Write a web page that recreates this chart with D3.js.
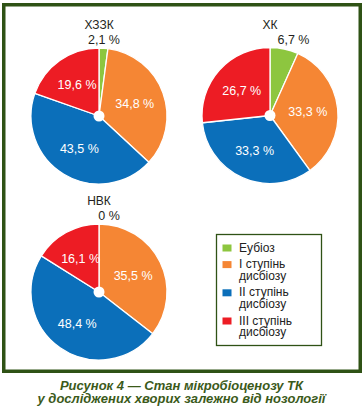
<!DOCTYPE html>
<html>
<head>
<meta charset="utf-8">
<script src="https://cdn.jsdelivr.net/npm/d3@7"></script>
<style>
  html, body { margin: 0; padding: 0; background: #fff; }
  svg { display: block; font-family: "Liberation Sans", Arial, Helvetica, sans-serif; }
</style>
</head>
<body>
<svg id="chart" width="363" height="414"></svg>
<script>
(function () {

    /* data */
    var groups = ["ХЗЗК", "ХК", "НВК"];
    var categories = ["Еубіоз", "І ступінь дисбіозу", "ІІ ступінь дисбіозу", "ІІІ ступінь дисбіозу"];
    var legendLines = [["Еубіоз"], ["І ступінь", "дисбіозу"], ["ІІ ступінь", "дисбіозу"], ["ІІІ ступінь", "дисбіозу"]];
    var valsHZZK = [2.1, 34.8, 43.5, 19.6];
    var valsHK   = [6.7, 33.3, 33.3, 26.7];
    var valsNVK  = [0, 35.5, 48.4, 16.1];
    var captionLines = ["Рисунок 4 — Стан мікробіоценозу ТК", "у досліджених хворих залежно від нозології"];

    var allVals = [valsHZZK, valsHK, valsNVK];

    /* styles / layout */
    var COLORS = ["#8dc63f", "#f58634", "#0b6fba", "#ed1c24"];
    var FRAME = "#2f5215";
    var R = 68;
    var LABEL_R = 38;
    /* pie centres and the dx of the small top label */
    var PIES = [
        { cx: 99,  cy: 116,   topDx: 5    },
        { cx: 270, cy: 115.5, topDx: 23.5 },
        { cx: 99,  cy: 292,   topDx: 10   }
    ];

    var color = d3.scaleOrdinal().domain(categories).range(COLORS);

    function fmt(v) {
        return v === 0 ? "0 %" : v.toFixed(1).replace(".", ",") + " %";
    }

    var svg = d3.select("#chart");

    /* outer frame */
    svg.append("rect")
        .attr("x", 3.75).attr("y", 4.75)
        .attr("width", 356.5).attr("height", 366.5)
        .attr("fill", "none")
        .attr("stroke", FRAME)
        .attr("stroke-width", 3.5);

    var pie = d3.pie().sort(null).value(function (d) { return d; });
    var arc = d3.arc().innerRadius(0).outerRadius(R);
    var labelArc = d3.arc().innerRadius(LABEL_R).outerRadius(LABEL_R);

    groups.forEach(function (name, gi) {
        var p = PIES[gi];
        var vals = allVals[gi];
        var g = svg.append("g")
            .attr("transform", "translate(" + p.cx + "," + p.cy + ")");

        var arcs = pie(vals);

        g.selectAll("path.slice")
            .data(arcs)
            .enter()
            .append("path")
            .attr("class", "slice")
            .attr("d", arc)
            .attr("fill", function (d, i) { return color(categories[i]); })
            .attr("stroke", "#fff")
            .attr("stroke-width", 1.3)
            .attr("stroke-linejoin", "round");

        /* centre hole */
        g.append("circle")
            .attr("r", 5.5)
            .attr("fill", "#fff");

        /* labels inside slices (not the first, tiny one) */
        g.selectAll("text.inlabel")
            .data(arcs.slice(1))
            .enter()
            .append("text")
            .attr("class", "inlabel")
            .attr("transform", function (d) {
                var c = labelArc.centroid(d);
                return "translate(" + c[0] + "," + (c[1] + 4.5) + ")";
            })
            .attr("text-anchor", "middle")
            .attr("fill", "#fff")
            .attr("font-size", "12.5px")
            .text(function (d) { return fmt(d.data); });

        /* first slice label above the pie */
        g.append("text")
            .attr("x", p.topDx)
            .attr("y", -R - 4)
            .attr("text-anchor", "middle")
            .attr("fill", "#231f20")
            .attr("font-size", "12.5px")
            .text(fmt(vals[0]));

        /* pie title */
        g.append("text")
            .attr("x", 0)
            .attr("y", -R - 19)
            .attr("text-anchor", "middle")
            .attr("fill", "#231f20")
            .attr("font-size", "12px")
            .text(name);
    });

    /* legend */
    var LEG_X = 216, LEG_Y = 234, LEG_W = 105, LEG_H = 111;
    var LINE_H = 11.6, ITEM_GAP = 5;
    var legend = svg.append("g");
    legend.append("rect")
        .attr("x", LEG_X + 0.5).attr("y", LEG_Y + 0.5)
        .attr("width", LEG_W).attr("height", LEG_H)
        .attr("fill", "#fff")
        .attr("stroke", FRAME)
        .attr("stroke-width", 1.3);

    var ly = 251.5;
    categories.forEach(function (c, i) {
        var item = legend.append("g");
        item.append("rect")
            .attr("x", 222.5).attr("y", ly - 7)
            .attr("width", 9).attr("height", 7)
            .attr("fill", color(c));
        var t = item.append("text")
            .attr("x", 239)
            .attr("y", ly)
            .attr("fill", "#222")
            .attr("font-size", "12px");
        legendLines[i].forEach(function (line, k) {
            t.append("tspan")
                .attr("x", 239)
                .attr("dy", k === 0 ? 0 : LINE_H)
                .text(line);
        });
        ly += legendLines[i].length * LINE_H + ITEM_GAP;
    });

    /* caption */
    svg.selectAll("text.caption")
        .data(captionLines)
        .enter()
        .append("text")
        .attr("class", "caption")
        .attr("x", 181.5)
        .attr("y", function (d, i) { return 390 + i * 12.5; })
        .attr("text-anchor", "middle")
        .attr("fill", "#3b5a1a")
        .attr("font-size", "13px")
        .attr("font-weight", "bold")
        .attr("font-style", "italic")
        .text(function (d) { return d; });

}());
</script>
</body>
</html>
